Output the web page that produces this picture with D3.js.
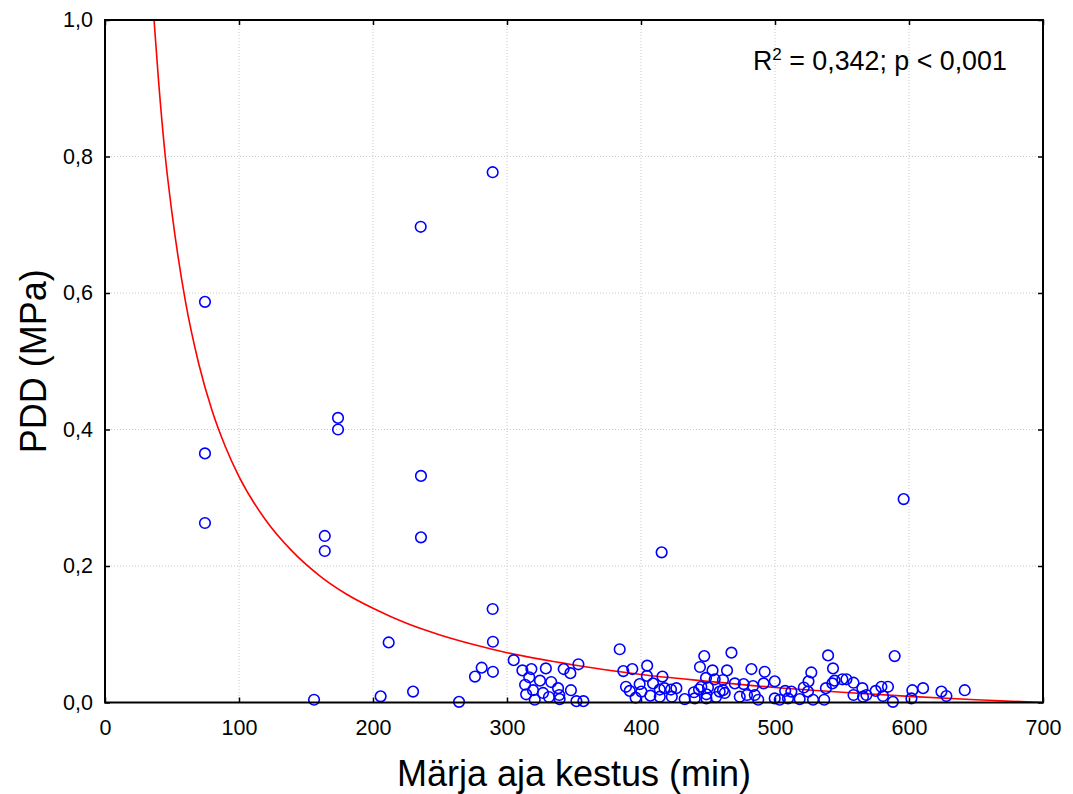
<!DOCTYPE html>
<html>
<head>
<meta charset="utf-8">
<script src="https://cdn.jsdelivr.net/npm/d3@7/dist/d3.min.js"></script>
<style>
  html, body { margin: 0; padding: 0; background: #fff; }
  svg { display: block; font-family: "Liberation Sans", Arial, sans-serif; }
</style>
</head>
<body>
<svg id="chart" width="1073" height="794"></svg>
<script>
// ---- data ----
const pointX = [
  74.6, 74.6, 74.6, 173.9, 173.9, 164, 164, 235.8, 235.8, 235.6, 289.3, 289.3, 289.5, 289.5,
  211.7, 415.4, 596, 589.3, 156, 205.7, 229.9, 264.2, 276.1, 281.1,
  305, 311.5, 318.2, 329, 316.6, 313.5, 314.3, 324.6, 333, 326.9, 319.4, 320.7, 331.3, 338.1,
  339, 342.3, 347.3, 353.3, 347.7, 351.8, 357, 339.3,
  384.1, 386.8, 393.5, 388.8, 391.6, 399, 404.6, 404.4, 409, 416, 396, 400.3, 407, 414, 414,
  417.5, 422.4, 426.4, 423,
  432.6, 440.1, 439.5, 444, 447.2, 453.4, 448.5, 455, 445, 450, 443.3, 448.8, 448.8, 456,
  458.7, 461.2, 461.2, 462.5, 464.2, 467.5,
  470, 476.6, 483.6, 491.5, 482.4, 492.3, 499.8, 473.7, 479.1, 484.9, 487.5, 499.8, 503.5,
  507.6, 512.2, 509.7, 518.4, 527.1, 525, 521.5, 524.6, 528.4, 536.7,
  539.6, 543.3, 542.8, 538, 544.5, 550.3, 553.3, 558.6, 558.6, 565.2, 565.7, 568.2, 575.1,
  579.4, 584.3, 580.6, 588, 602.5, 601.8, 610.5, 624.2, 627.9, 641.6
];
const pointY = [
  0.587, 0.365, 0.263, 0.417, 0.400, 0.244, 0.222, 0.332, 0.242, 0.697, 0.777, 0.137, 0.089, 0.045,
  0.088, 0.220, 0.298, 0.068, 0.004, 0.009, 0.016, 0.001, 0.038, 0.051,
  0.062, 0.047, 0.049, 0.050, 0.037, 0.026, 0.012, 0.032, 0.030, 0.014, 0.018, 0.004, 0.008, 0.021,
  0.011, 0.049, 0.043, 0.056, 0.018, 0.002, 0.002, 0.005,
  0.078, 0.046, 0.049, 0.023, 0.017, 0.027, 0.054, 0.039, 0.028, 0.038, 0.007, 0.016, 0.010, 0.019, 0.0085,
  0.021, 0.019, 0.021, 0.0085,
  0.005, 0.006, 0.015, 0.052, 0.068, 0.047, 0.036, 0.034, 0.023, 0.022, 0.019, 0.012, 0.006, 0.008,
  0.016, 0.018, 0.033, 0.014, 0.047, 0.073,
  0.028, 0.027, 0.024, 0.028, 0.049, 0.045, 0.031, 0.0085, 0.011, 0.011, 0.004, 0.006, 0.004,
  0.017, 0.016, 0.006, 0.005, 0.044, 0.031, 0.022, 0.016, 0.004, 0.004,
  0.069, 0.050, 0.028, 0.021, 0.032, 0.034, 0.034, 0.029, 0.011, 0.021, 0.0085, 0.011, 0.017,
  0.023, 0.023, 0.0095, 0.001, 0.018, 0.006, 0.021, 0.016, 0.0095, 0.018
];
// fitted curve, points
const curveX = [36.6, 40, 45, 50, 60, 70, 80, 90, 100, 120, 140, 160, 180, 200, 225, 250, 275, 300, 350, 400, 450, 500, 550, 600, 650, 700];
const curveY = [1.0, 0.91, 0.80, 0.717, 0.588, 0.496, 0.427, 0.374, 0.331, 0.267, 0.221, 0.186, 0.159, 0.138, 0.116, 0.099, 0.085, 0.073, 0.055, 0.041, 0.031, 0.022, 0.015, 0.009, 0.004, 0.0];
const xTicks = [0, 100, 200, 300, 400, 500, 600, 700];
const yTicks = [0, 0.2, 0.4, 0.6, 0.8, 1.0];
const xTitle = "Märja aja kestus (min)";
const yTitle = "PDD (MPa)";
const statText = { r: "R", sup: "2", rest: " = 0,342; p < 0,001" };

// ---- layout ----
const svg = d3.select("#chart");
const L = 105, R = 1043, T = 20, B = 702.5;
const x = d3.scaleLinear().domain([0, 700]).range([L, R]);
const y = d3.scaleLinear().domain([0, 1]).range([B, T]);
const fmtY = v => d3.format(".1f")(v).replace(".", ",");

// grid
const grid = svg.append("g");
grid.selectAll("line.gx").data(xTicks.slice(1, -1)).join("line")
  .attr("x1", d => x(d)).attr("x2", d => x(d)).attr("y1", T).attr("y2", B)
  .attr("stroke", "#c8c8c8").attr("stroke-width", 1).attr("stroke-dasharray", "1,2");
grid.selectAll("line.gy").data(yTicks.slice(1, -1)).join("line")
  .attr("y1", d => y(d)).attr("y2", d => y(d)).attr("x1", L).attr("x2", R)
  .attr("stroke", "#c8c8c8").attr("stroke-width", 1).attr("stroke-dasharray", "1,2");

// axes (ticks pointing inward)
const axB = svg.append("g").attr("transform", `translate(0,${B})`)
  .call(d3.axisBottom(x).tickValues(xTicks).tickSize(-5).tickPadding(17).tickFormat(d3.format("d")));
const axT = svg.append("g").attr("transform", `translate(0,${T})`)
  .call(d3.axisTop(x).tickValues(xTicks).tickSize(-5).tickFormat(""));
const axL = svg.append("g").attr("transform", `translate(${L},0)`)
  .call(d3.axisLeft(y).tickValues(yTicks).tickSize(-5).tickPadding(12).tickFormat(fmtY));
const axR = svg.append("g").attr("transform", `translate(${R},0)`)
  .call(d3.axisRight(y).tickValues(yTicks).tickSize(-5).tickFormat(""));
[axB, axT, axL, axR].forEach(a => {
  a.select(".domain").remove();
  a.selectAll(".tick line").attr("stroke", "#000").attr("stroke-width", 1.5);
  a.selectAll(".tick text").attr("font-size", 21.5).attr("fill", "#000")
    .attr("font-family", "'Liberation Sans', Arial, sans-serif");
});

// fitted curve
const line = d3.line().x(d => x(d[0])).y(d => y(d[1])).curve(d3.curveMonotoneX);
svg.append("path").datum(curveX.map((v, i) => [v, curveY[i]]))
  .attr("d", line).attr("fill", "none").attr("stroke", "#ff0000").attr("stroke-width", 1.6);

// points
svg.append("g").selectAll("circle").data(pointX.map((v, i) => [v, pointY[i]])).join("circle")
  .attr("cx", d => x(d[0])).attr("cy", d => y(d[1])).attr("r", 5.3)
  .attr("fill", "none").attr("stroke", "#0000ff").attr("stroke-width", 1.6);

// frame
svg.append("rect").attr("x", L).attr("y", T).attr("width", R - L).attr("height", B - T)
  .attr("fill", "none").attr("stroke", "#000").attr("stroke-width", 2);

// titles
svg.append("text").attr("x", (L + R) / 2).attr("y", 786).attr("text-anchor", "middle")
  .attr("font-size", 36).attr("fill", "#000").text(xTitle);
svg.append("text").attr("transform", `translate(46,${(T + B) / 2}) rotate(-90)`)
  .attr("text-anchor", "middle").attr("font-size", 36).attr("fill", "#000").text(yTitle);

// annotation
const ann = svg.append("text").attr("x", 753).attr("y", 70).attr("font-size", 26.8).attr("fill", "#000");
ann.append("tspan").text(statText.r);
ann.append("tspan").attr("font-size", 17).attr("dy", -10).text(statText.sup);
ann.append("tspan").attr("dy", 10).text(statText.rest);
</script>
</body>
</html>
